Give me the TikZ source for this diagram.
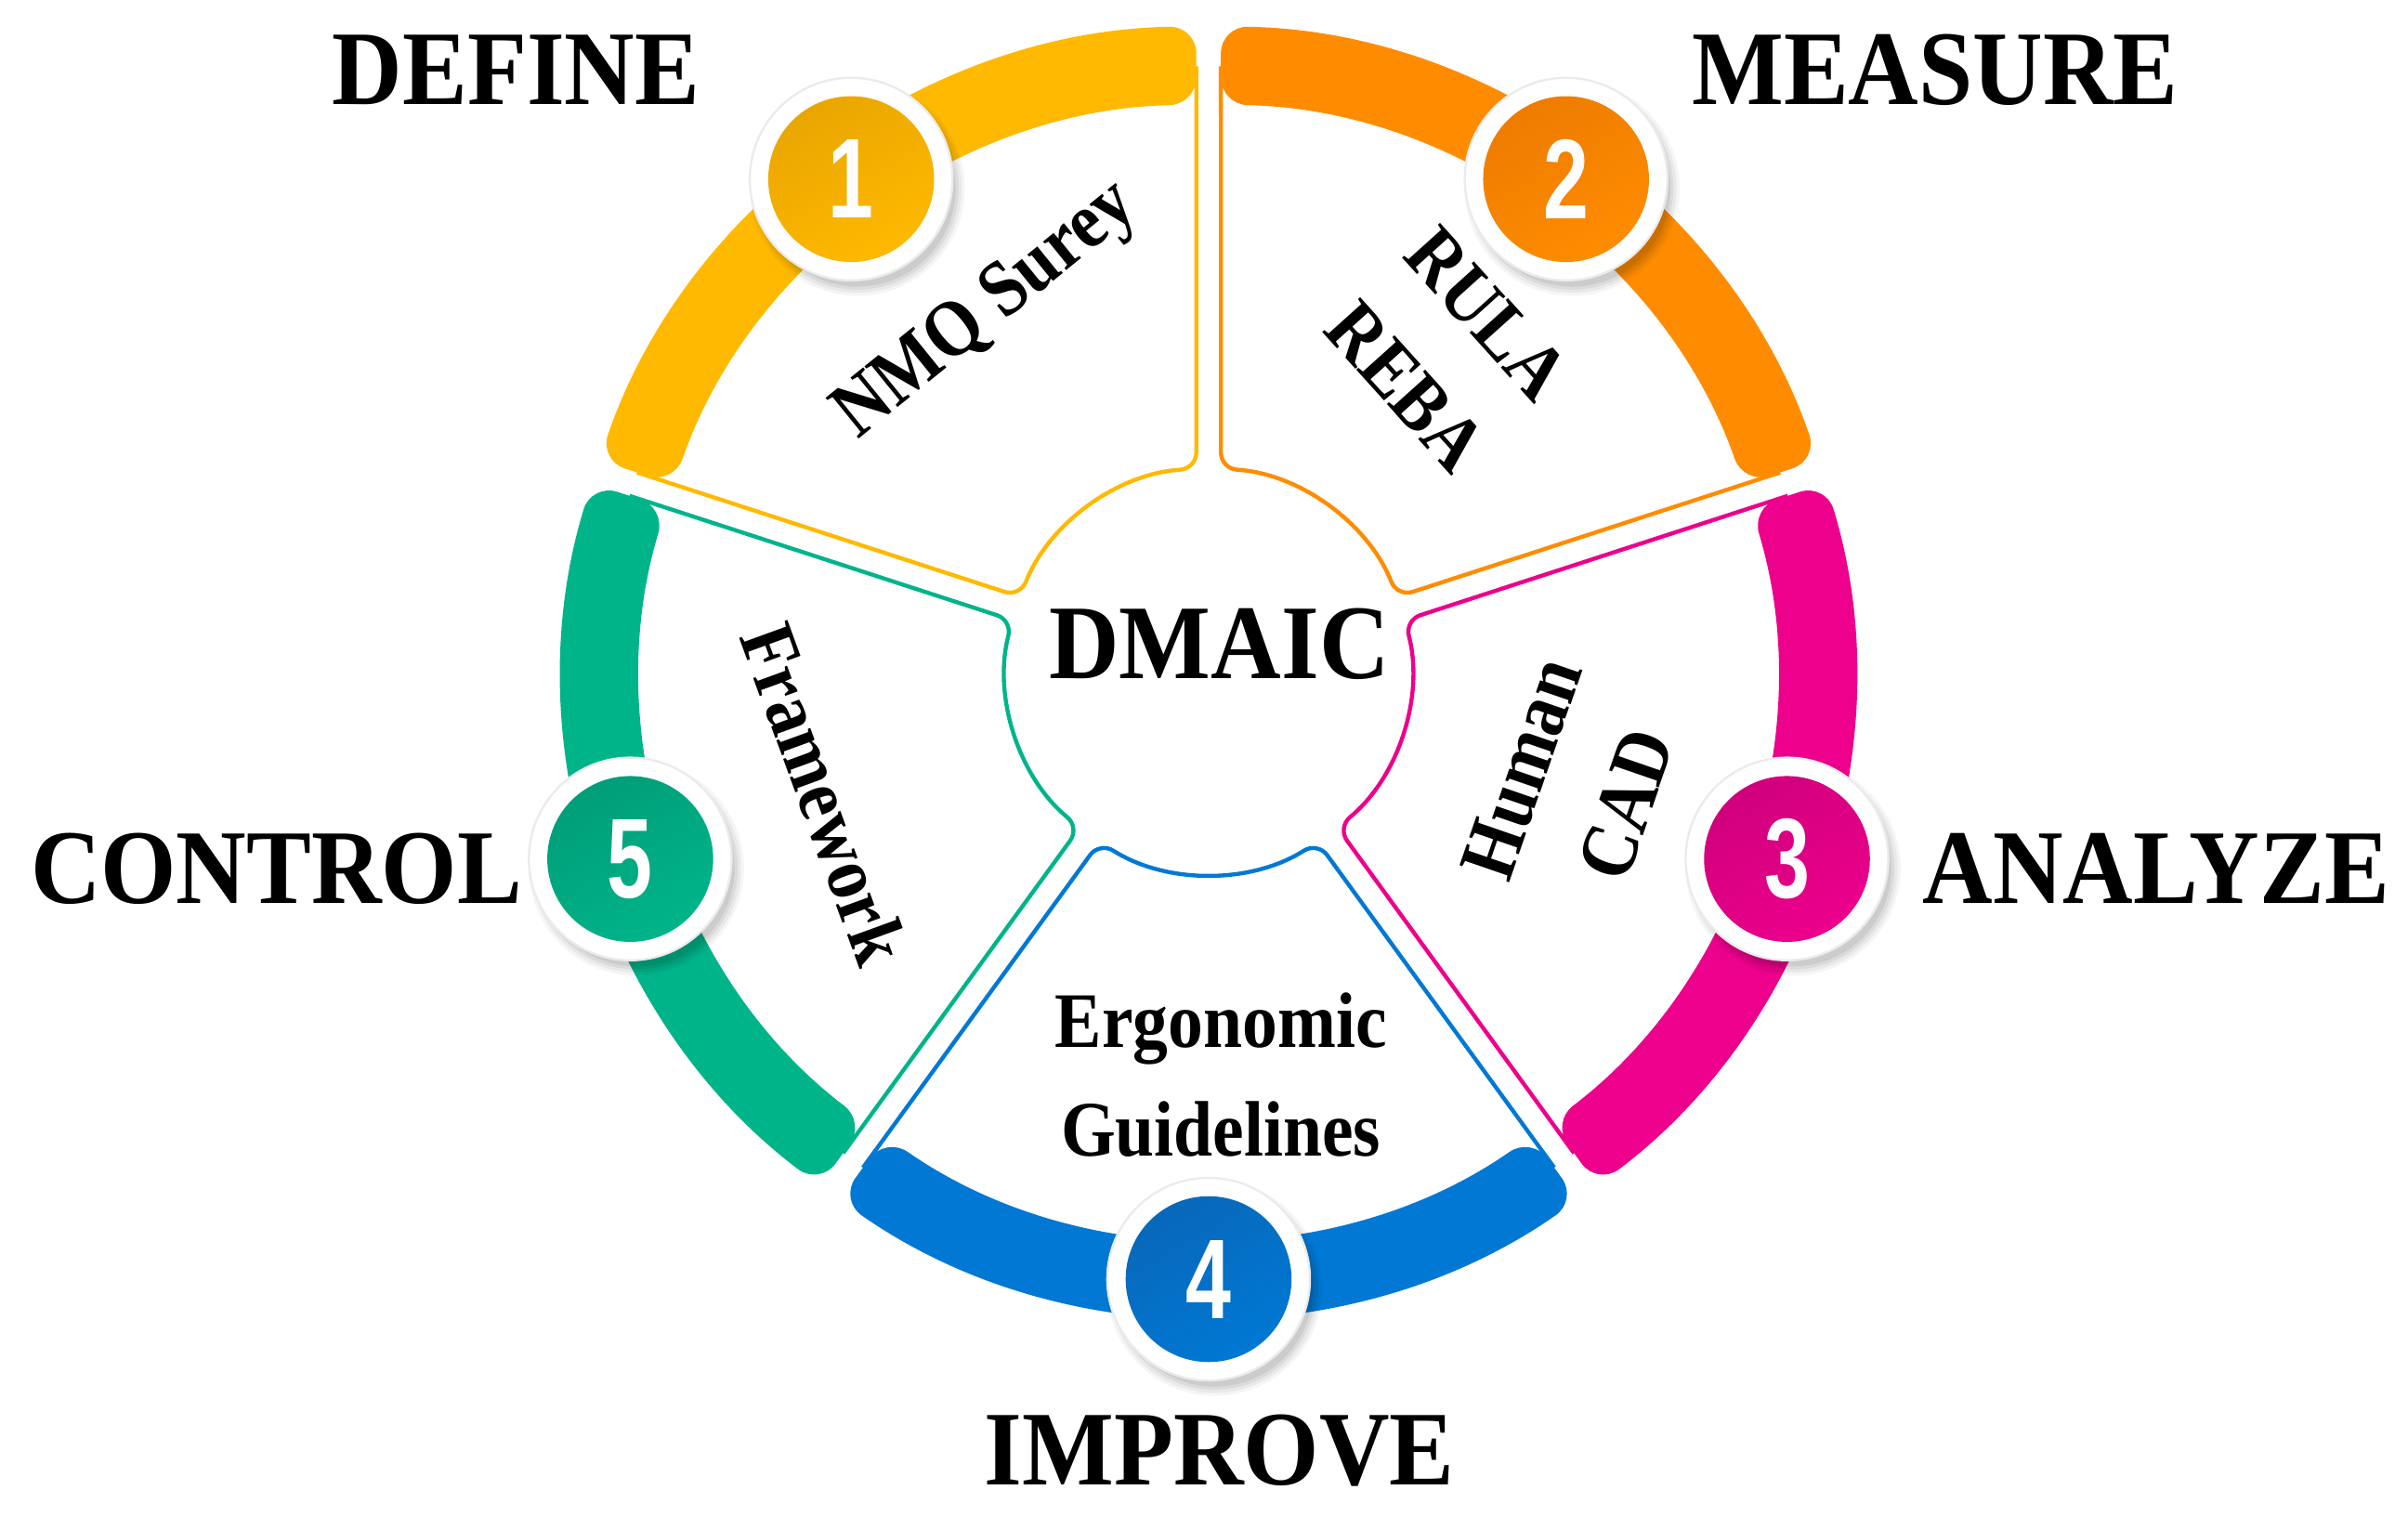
\documentclass[tikz,border=0pt]{standalone}
\usepackage{fontspec}
\setmainfont{Liberation Serif}
\newfontfamily\numfont{Liberation Sans}
\definecolor{pYel}{HTML}{FFB900}
\definecolor{pYelD}{HTML}{E9A600}
\definecolor{pOra}{HTML}{FF8C00}
\definecolor{pOraD}{HTML}{EE7C00}
\definecolor{pMag}{HTML}{EC008C}
\definecolor{pMagD}{HTML}{D0007C}
\definecolor{pBlu}{HTML}{0078D4}
\definecolor{pBluD}{HTML}{0868BA}
\definecolor{pGrn}{HTML}{00B48A}
\definecolor{pGrnD}{HTML}{009E78}
\begin{document}
\begin{tikzpicture}[x=0.01cm,y=0.01cm,
  petal/.style={line width=0.75pt, rounded corners=3pt},
  band/.style={rounded corners=5pt},
  big/.style={font=\fontsize{18}{20}\selectfont\bfseries, anchor=base, inner sep=0pt, yscale=1.09},
  inner/.style={font=\fontsize{13}{18}\selectfont\bfseries, align=center, inner sep=0pt},
  numdisk/.style={circle, minimum size=1.08cm, inner sep=0pt, text=white,
     font=\numfont\fontsize{21}{22}\selectfont\bfseries}]
\useasboundingbox (0,0) rectangle (1568,-987);
\coordinate (C) at (787,-437);
% petal outlines
\foreach \a/\c in {126/pYel,54/pOra,-18/pMag,-90/pBlu,198/pGrn}{
  \begin{scope}[shift={(C)}, rotate={\a-90}]
    \draw[petal, draw=\c] ({126-asin(8/394)}:394) -- ({126-asin(8/132)}:132)
      arc[start angle={126-asin(8/132)}, end angle={54+asin(8/132)}, radius=132]
      -- ({54+asin(8/394)}:394);
  \end{scope}
}
% thick bands
\foreach \a/\c in {126/pYel,54/pOra,-18/pMag,-90/pBlu,198/pGrn}{
  \begin{scope}[shift={(C)}, rotate={\a-90}]
    \fill[band, fill=\c] ({126-asin(8/420)}:420)
      arc[start angle={126-asin(8/420)}, end angle={54+asin(8/420)}, radius=420]
      -- ({54+asin(8/369)}:369)
      arc[start angle={54+asin(8/369)}, end angle={126-asin(8/369)}, radius=369]
      -- cycle;
  \end{scope}
}
% number discs
\foreach \a/\c/\d/\n in {126/pYel/pYelD/1,54/pOra/pOraD/2,-18/pMag/pMagD/3,-90/pBlu/pBluD/4,198/pGrn/pGrnD/5}{
  \foreach \r/\o in {70/0.04,68/0.05,66/0.06,64/0.07}{
    \fill[black, opacity=\o] ([shift={(\a:396)}]C) ++(4,-6) circle (\r);
  }
  \fill[white] ([shift={(\a:396)}]C) circle (66);
  \draw[black!8, line width=0.4pt] ([shift={(\a:396)}]C) circle (66);
  \shade[top color=\d, bottom color=\c, shading angle=30] ([shift={(\a:396)}]C) circle (54);
  \node[numdisk, xscale=0.72] (n\n) at ([shift={(\a:396)}]C) {\n};
}
% phase labels
\node[big] (tD) at (336,-68) {DEFINE};
\node[big] (tM) at (1260,-68) {MEASURE};
\node[big] (tA) at (1404,-588) {ANALYZE};
\node[big] (tI) at (794,-967) {IMPROVE};
\node[big] (tC) at (180,-588) {CONTROL};
\node[big] (tX) at (794,-442) {DMAIC};
% inner texts
\node[inner, rotate=39, yscale=1.14] (s1) at (643,-203) {NMQ Surey};
\node[inner, rotate=-48, yscale=1.12] (s2) at (942,-228) {RULA\\REBA};
\node[inner, rotate=71, yscale=1.14] (s3) at (1025,-512) {Human\\CAD};
\node[inner, yscale=1.12] (s4) at (795,-700) {Ergonomic\\Guidelines};
\node[inner, rotate=-70, yscale=1.12] (s5) at (537,-517) {Framework};
\end{tikzpicture}
\end{document}
